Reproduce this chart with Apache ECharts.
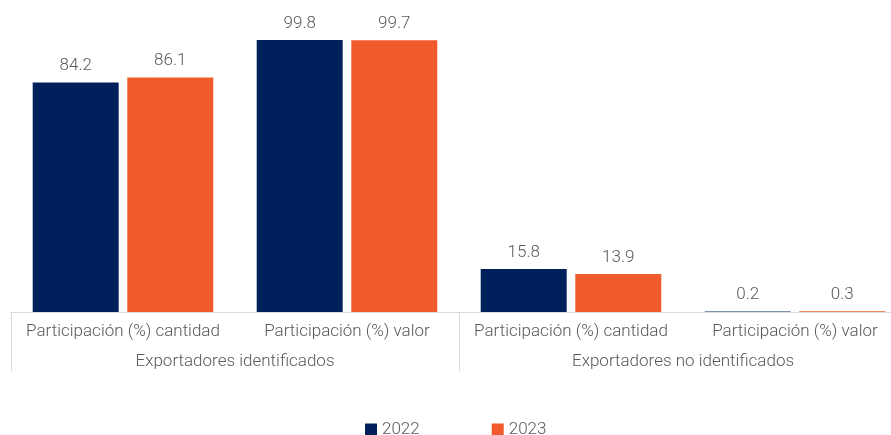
<!DOCTYPE html>
<html><head><meta charset="utf-8">
<script src="https://cdn.jsdelivr.net/npm/echarts@6/dist/echarts.min.js"></script>
<style>html,body{margin:0;padding:0;background:#fff;overflow:hidden}#c{width:923px;height:435px}</style>
</head><body><div id="c"></div>
<script>
const categories = ['Participación (%) cantidad','Participación (%) valor','Participación (%) cantidad','Participación (%) valor'];
const groups = ['Exportadores identificados','Exportadores no identificados'];
const seriesNames = ['2022','2023'];
const values2022 = [84.2, 99.8, 15.8, 0.2];
const values2023 = [86.1, 99.7, 13.9, 0.3];
const colors = ['#00205C','#F15A2B'];
const FONT = 'Roboto';
const chart = echarts.init(document.getElementById('c'));
const labelStyle = {show:true, position:'top', distance:8, color:'#595959', fontSize:17, fontWeight:300, fontFamily:FONT, formatter: p => p.value.toFixed(1)};
chart.setOption({
  animation:false,
  textStyle:{fontFamily:FONT},
  grid:{left:11, top:39.5, width:896, height:272.5, containLabel:false},
  legend:{top:416, left:365, itemWidth:12, itemHeight:12, itemGap:72, icon:'rect', padding:[5,5,5,0],
    textStyle:{color:'#595959', fontSize:17, fontWeight:300, fontFamily:FONT}, data:seriesNames},
  xAxis:[
    {type:'category', data:categories, position:'bottom',
     axisLine:{show:true, lineStyle:{color:'#d9d9d9'}}, axisTick:{show:false},
     axisLabel:{interval:0, margin:11, color:'#595959', fontSize:17, fontWeight:300, fontFamily:FONT}},
    {type:'category', data:groups, position:'bottom', offset:0,
     axisLine:{show:false}, axisTick:{show:true, length:59, interval:0, lineStyle:{color:'#d9d9d9'}},
     axisLabel:{interval:0, margin:41, color:'#595959', fontSize:17, fontWeight:300, fontFamily:FONT}}
  ],
  yAxis:{type:'value', min:0, max:100, show:false, splitLine:{show:false}},
  series:[
    {name:seriesNames[0], type:'bar', data:values2022, barWidth:86, barGap:'10%', itemStyle:{color:colors[0]}, label:labelStyle},
    {name:seriesNames[1], type:'bar', data:values2023, barWidth:86, barGap:'10%', itemStyle:{color:colors[1]}, label:labelStyle}
  ]
});
</script></body></html>
